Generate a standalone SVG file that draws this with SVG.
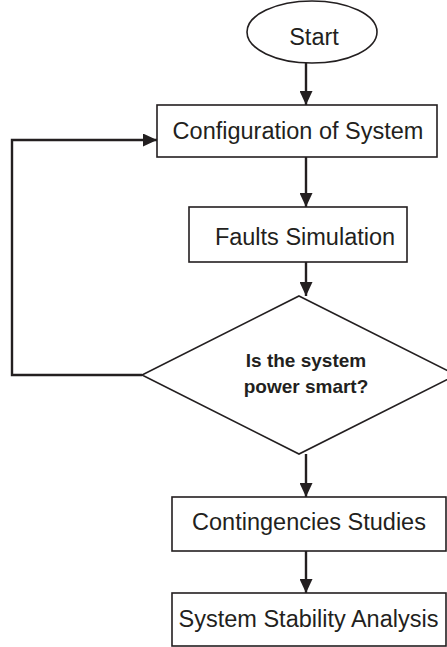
<svg xmlns="http://www.w3.org/2000/svg" width="447" height="647" viewBox="0 0 447 647">
<style>
.box{fill:#fff;stroke:#231f20;stroke-width:1.6}
.t{font-family:"Liberation Sans",Arial,sans-serif;font-size:23.5px;fill:#231f20;text-anchor:middle}
.b{font-family:"Liberation Sans",Arial,sans-serif;font-size:19px;font-weight:bold;fill:#231f20;text-anchor:middle}
.c{fill:none;stroke:#231f20;stroke-width:2.4}
</style>
<defs>
<marker id="ah" markerUnits="userSpaceOnUse" markerWidth="14" markerHeight="13" refX="14" refY="6.5" orient="auto">
<path d="M0,0 L14,6.5 L0,13 Z" fill="#231f20"/>
</marker>
</defs>
<rect width="447" height="647" fill="#fff"/>
<g id="connectors">
<line class="c" x1="306" y1="63" x2="306" y2="105" marker-end="url(#ah)"/>
<line class="c" x1="306" y1="157" x2="306" y2="207" marker-end="url(#ah)"/>
<line class="c" x1="306" y1="262" x2="306" y2="296" marker-end="url(#ah)"/>
<line class="c" x1="306" y1="454" x2="306" y2="497" marker-end="url(#ah)"/>
<line class="c" x1="306" y1="551" x2="306" y2="593" marker-end="url(#ah)"/>
<polyline class="c" points="142,375 12,375 12,140 157,140" marker-end="url(#ah)"/>
</g>
<g id="start">
<ellipse class="box" cx="312" cy="32" rx="65" ry="31"/>
<text class="t" x="314" y="45">Start</text>
</g>
<g id="config">
<rect class="box" x="157" y="105" width="280" height="52"/>
<text class="t" x="298" y="139">Configuration of System</text>
</g>
<g id="faults">
<rect class="box" x="189" y="207" width="218" height="55"/>
<text class="t" x="305" y="245">Faults Simulation</text>
</g>
<g id="decision">
<polygon class="box" points="299,296 456,375 299,454 142,375"/>
<text class="b" x="306" y="367">Is the system</text>
<text class="b" x="306" y="393">power smart?</text>
</g>
<g id="contingencies">
<rect class="box" x="172" y="497" width="274" height="54"/>
<text class="t" x="309" y="530">Contingencies Studies</text>
</g>
<g id="stability">
<rect class="box" x="172" y="593" width="274" height="53"/>
<text class="t" x="308.5" y="627">System Stability Analysis</text>
</g>
</svg>
